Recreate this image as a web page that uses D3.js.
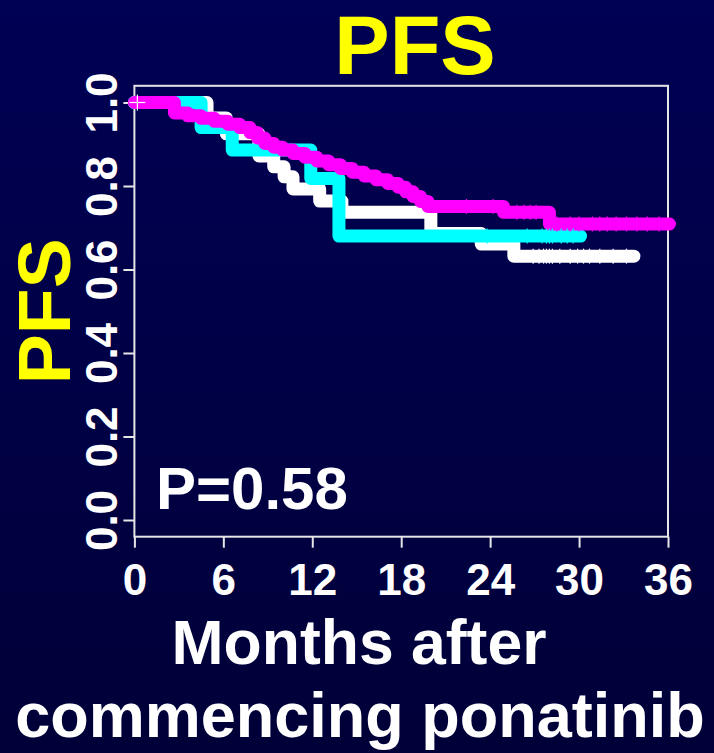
<!DOCTYPE html>
<html>
<head>
<meta charset="utf-8">
<script src="https://cdn.jsdelivr.net/npm/d3@7"></script>
<style>
  html, body { margin: 0; padding: 0; }
  body { width: 714px; height: 753px; overflow: hidden; }
  text { font-family: "Liberation Sans", Arial, sans-serif; font-weight: bold; }
</style>
</head>
<body>
<div id="chart"></div>
<script>
// tick labels
const monthTicks = [0, 6, 12, 18, 24, 30, 36]
const pfsTicks = [0, 0.2, 0.4, 0.6, 0.8, 1.0]

// KM curves (step starts + survival after the step)
const whiteTimes = [0, 4.9, 6.2, 8.4, 9.4, 10.1, 10.7, 12.5, 14.0, 20.0, 23.4, 25.6]
const whiteSurv = [1.0, 0.963, 0.925, 0.872, 0.846, 0.822, 0.793, 0.764, 0.737, 0.686, 0.661, 0.632]
const whiteEnd = 33.7
const whiteCensor = [0.2, 26.9, 27.3, 27.6, 27.8, 28.0, 28.2, 28.7, 29.4, 29.9, 30.3, 30.7, 31.4, 32.3, 33.2]

const cyanTimes = [0, 4.5, 6.6, 11.9, 13.8]
const cyanSurv = [1.0, 0.940, 0.886, 0.818, 0.680]
const cyanEnd = 30.1
const cyanCensor = [23.8, 26.5, 27.5, 27.8, 28.0, 28.2, 28.8, 29.2, 29.6]

const magentaTimes = [0, 2.7, 3.6, 4.5, 5.4, 6.3, 7.1, 7.8, 8.3, 8.8, 9.4, 10.0, 10.7, 11.5, 12.3,
    13.1, 13.9, 14.7, 15.5, 16.3, 17.1, 17.8, 18.3, 18.8, 19.3, 19.8, 24.9, 28.0]
const magentaSurv = [1.0, 0.975, 0.968, 0.962, 0.955, 0.948, 0.940, 0.928, 0.915, 0.902, 0.893, 0.886, 0.878, 0.869, 0.860,
    0.851, 0.842, 0.833, 0.824, 0.815, 0.806, 0.797, 0.786, 0.775, 0.763, 0.751, 0.737, 0.709]
const magentaEnd = 36.1
const magentaCensor = [22.4, 24.2, 25.8, 26.3, 26.7, 27.1, 28.5, 29.4, 30.0, 30.9, 31.4, 31.9, 32.5, 33.2, 33.9, 34.6, 35.4]

const curves = [
    { color: "#ffffff", times: whiteTimes, surv: whiteSurv, end: whiteEnd, censor: whiteCensor },
    { color: "#00ffff", times: cyanTimes, surv: cyanSurv, end: cyanEnd, censor: cyanCensor },
    { color: "#ff00ff", times: magentaTimes, surv: magentaSurv, end: magentaEnd, censor: magentaCensor }
]

const W = 714, H = 753

let svg = d3.select("#chart").append("svg")
    .attr("width", W)
    .attr("height", H)

// slide background
let grad = svg.append("defs").append("linearGradient")
    .attr("id", "bg").attr("x1", 0).attr("y1", 0).attr("x2", 0).attr("y2", 1)
grad.append("stop").attr("offset", "0%").attr("stop-color", "#000054")
grad.append("stop").attr("offset", "100%").attr("stop-color", "#000038")
svg.append("rect").attr("width", W).attr("height", H).attr("fill", "url(#bg)")

let x = d3.scaleLinear().domain([0, 36]).range([134.4, 668])
let y = d3.scaleLinear().domain([0, 1]).range([520, 102.5])

// plot box (y padded 4% like R)
svg.append("rect")
    .attr("x", x(0))
    .attr("y", y(1.04))
    .attr("width", x(36) - x(0))
    .attr("height", y(-0.04) - y(1.04))
    .attr("fill", "none")
    .attr("stroke", "#e6e6e6")
    .attr("stroke-width", 2)

// x axis
let xAxis = svg.append("g")
    .attr("transform", "translate(0," + y(-0.04) + ")")
    .call(d3.axisBottom(x).tickValues(monthTicks).tickSize(11).tickSizeOuter(0))
xAxis.select(".domain").remove()
xAxis.selectAll("line").attr("stroke", "#e6e6e6").attr("stroke-width", 2)
xAxis.selectAll("text")
    .attr("y", 58).attr("dy", null)
    .attr("fill", "#ffffff")
    .attr("font-size", 44)
    .style("font-family", "'Liberation Sans', Arial, sans-serif")
    .style("font-weight", "bold")

// y axis
let yAxis = svg.append("g")
    .attr("transform", "translate(" + x(0) + ",0)")
    .call(d3.axisLeft(y).tickValues(pfsTicks).tickFormat(d3.format(".1f")).tickSize(11).tickSizeOuter(0))
yAxis.select(".domain").remove()
yAxis.selectAll("line").attr("stroke", "#e6e6e6").attr("stroke-width", 2)
yAxis.selectAll("text")
    .attr("x", null).attr("dy", null)
    .attr("transform", "translate(-17,0) rotate(-90)")
    .attr("text-anchor", "middle")
    .attr("fill", "#ffffff")
    .attr("font-size", 44)
    .style("font-family", "'Liberation Sans', Arial, sans-serif")
    .style("font-weight", "bold")

// step lines
let line = d3.line()
    .x((d) => x(d[0]))
    .y((d) => y(d[1]))
    .curve(d3.curveStepAfter)

curves.forEach((c) => {
    let pts = c.times.map((t, i) => [t, c.surv[i]])
    pts.push([c.end, c.surv[c.surv.length - 1]])
    svg.append("path")
        .datum(pts)
        .attr("d", line)
        .attr("fill", "none")
        .attr("stroke", c.color)
        .attr("stroke-width", 13)
        .attr("stroke-linejoin", "round")
        .attr("stroke-linecap", "round")
})

// censor marks (+), mostly hidden inside the thick lines
const survAt = (c, t) => c.surv[Math.max(0, d3.bisectRight(c.times, t) - 1)]
curves.forEach((c) => {
    let g = svg.append("g").attr("stroke", c.color).attr("stroke-width", 1.2)
    c.censor.forEach((t) => {
        let cx = x(t), cy = y(survAt(c, t))
        let h = t < 1 ? 8 : 7.5
        g.append("line").attr("x1", cx).attr("x2", cx).attr("y1", cy - h).attr("y2", cy + h)
        g.append("line").attr("x1", cx - h).attr("x2", cx + h).attr("y1", cy).attr("y2", cy)
    })
})

// texts
svg.append("text")
    .attr("x", 415).attr("y", 74)
    .attr("text-anchor", "middle")
    .attr("font-size", 83)
    .attr("fill", "#ffff00")
    .text("PFS")

svg.append("text")
    .attr("transform", "translate(70," + y(0.5) + ") rotate(-90)")
    .attr("text-anchor", "middle")
    .attr("font-size", 75)
    .attr("fill", "#ffff00")
    .text("PFS")

svg.append("text")
    .attr("x", 156).attr("y", 509)
    .attr("font-size", 60)
    .attr("fill", "#ffffff")
    .text("P=0.58")

svg.append("text")
    .attr("x", 359).attr("y", 664)
    .attr("text-anchor", "middle")
    .attr("font-size", 62.5)
    .attr("fill", "#ffffff")
    .text("Months after")

svg.append("text")
    .attr("x", 360).attr("y", 737)
    .attr("text-anchor", "middle")
    .attr("font-size", 63)
    .attr("fill", "#ffffff")
    .text("commencing ponatinib")
</script>
</body>
</html>
